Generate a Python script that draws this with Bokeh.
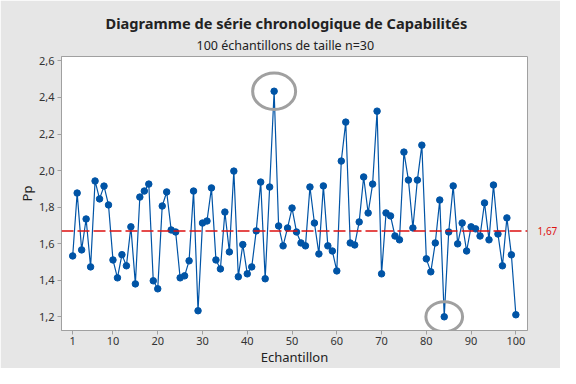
from bokeh.plotting import figure
from bokeh.models import FixedTicker, CustomJSTickFormatter, Span, Range1d, LinearAxis, Title
from bokeh.embed import file_html
from bokeh.resources import INLINE

# ---- data ----
samples = list(range(1, 101))
pp = [1.533, 1.877, 1.566, 1.735, 1.473, 1.943, 1.845, 1.915, 1.812, 1.511,
      1.413, 1.540, 1.479, 1.692, 1.380, 1.855, 1.888, 1.926, 1.397, 1.353,
      1.806, 1.883, 1.675, 1.664, 1.413, 1.424, 1.506, 1.888, 1.233, 1.713,
      1.724, 1.905, 1.511, 1.462, 1.773, 1.555, 1.997, 1.419, 1.595, 1.435,
      1.473, 1.670, 1.937, 1.408, 1.910, 2.434, 1.697, 1.588, 1.686, 1.795,
      1.664, 1.604, 1.588, 1.910, 1.713, 1.544, 1.916, 1.588, 1.560, 1.451,
      2.052, 2.265, 1.604, 1.593, 1.719, 1.965, 1.768, 1.926, 2.325, 1.435,
      1.768, 1.752, 1.642, 1.621, 2.101, 1.948, 1.686, 1.948, 2.139, 1.517,
      1.446, 1.604, 1.839, 1.200, 1.664, 1.916, 1.599, 1.713, 1.560, 1.692,
      1.681, 1.642, 1.823, 1.621, 1.921, 1.653, 1.479, 1.741, 1.539, 1.211]
ref_value = 1.67
x_ticks = [1, 10, 20, 30, 40, 50, 60, 70, 80, 90, 100]
y_ticks = [1.2, 1.4, 1.6, 1.8, 2.0, 2.2, 2.4, 2.6]
title_text = "Diagramme de série chronologique de Capabilités"
subtitle_text = "100 échantillons de taille n=30"
x_label = "Echantillon"
y_label = "Pp"

FONT = "Noto Sans"
BLUE = "#0054a6"
RED = "#dd1111"
BG = "#e6e6e6"

p = figure(width=560, height=368, output_backend="svg", toolbar_location=None,
           x_range=Range1d(-1.5, 102.6), y_range=Range1d(1.125, 2.624),
           min_border_left=61, min_border_right=31, min_border_top=56, min_border_bottom=38)
p.border_fill_color = BG
p.background_fill_color = "white"
p.outline_line_color = "#a0a0a0"
p.grid.visible = False

for ax in (p.xaxis[0], p.yaxis[0]):
    ax.axis_line_color = "#a0a0a0"
    ax.major_tick_line_color = "#a0a0a0"
    ax.major_tick_out = 4
    ax.major_tick_in = 0
    ax.minor_tick_line_color = None
    ax.major_label_text_font = FONT
    ax.major_label_text_font_size = "11px"
    ax.major_label_text_color = "#333333"
    ax.axis_label_text_font = FONT
    ax.axis_label_text_font_size = "13px"
    ax.axis_label_text_font_style = "normal"
    ax.axis_label_text_color = "#222222"

p.xaxis.ticker = FixedTicker(ticks=x_ticks)
p.yaxis.ticker = FixedTicker(ticks=y_ticks)
p.yaxis.formatter = CustomJSTickFormatter(code="return tick.toFixed(1).replace('.', ',');")
p.xaxis.axis_label = x_label
p.yaxis.axis_label = y_label
p.xaxis.major_label_standoff = 2
p.yaxis.major_label_standoff = 3
p.xaxis.axis_label_standoff = 0
p.yaxis.axis_label_standoff = 0

# reference line and its value shown on a right-hand axis
p.add_layout(Span(location=ref_value, dimension="width", line_color=RED,
                  line_width=1.5, line_dash="12 4"))
ref_axis = LinearAxis(ticker=FixedTicker(ticks=[ref_value]),
                      formatter=CustomJSTickFormatter(code="return tick.toFixed(2).replace('.', ',');"),
                      axis_line_color=None, major_tick_line_color=None, minor_tick_line_color=None,
                      major_label_text_color=RED, major_label_text_font=FONT,
                      major_label_text_font_size="10px", major_label_standoff=4)
p.add_layout(ref_axis, "right")

# series
p.line(samples, pp, line_color=BLUE, line_width=1.2)
p.scatter(samples, pp, size=6.5, fill_color=BLUE, line_color=BLUE)

# highlight max & min
i_max = pp.index(max(pp))
i_min = pp.index(min(pp))
p.ellipse(x=[samples[i_max]], y=[pp[i_max]], width=9.6, height=0.2,
          fill_color=None, line_color="#a0a0a0", line_width=3)
p.ellipse(x=[samples[i_min]], y=[pp[i_min]], width=8.2, height=0.165,
          fill_color=None, line_color="#a0a0a0", line_width=3)

# titles (subtitle nearest the plot, title above it)
p.title = None
p.add_layout(Title(text=subtitle_text, align="left", offset=135, text_font=FONT,
                   text_font_size="12.5px", text_font_style="normal",
                   text_color="#222222", standoff=5), "above")
p.add_layout(Title(text=title_text, align="left", offset=44, text_font=FONT,
                   text_font_size="14.6px", text_font_style="bold",
                   text_color="#222222", standoff=-1), "above")

open("out.html", "w").write(file_html(p, INLINE))
